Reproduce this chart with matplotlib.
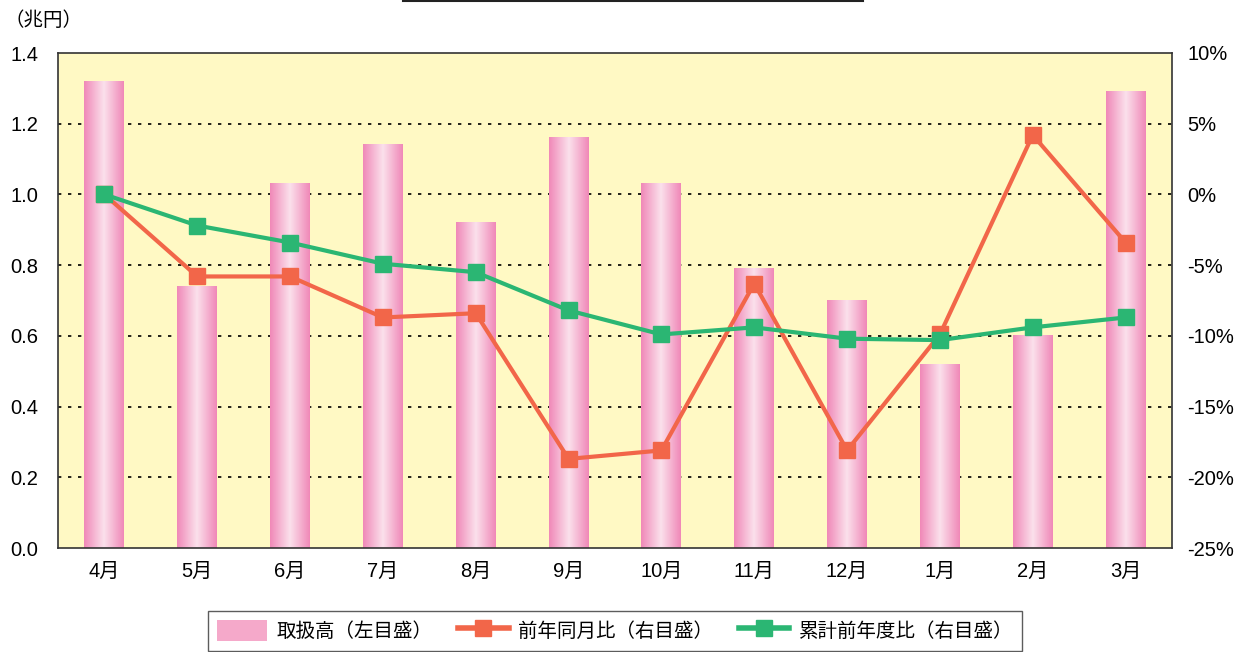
import matplotlib.pyplot as plt
import matplotlib.lines as mlines
import matplotlib.patches as mpatches
from matplotlib.colors import LinearSegmentedColormap
import numpy as np

plt.rcParams['font.family'] = ['Liberation Sans', 'Noto Sans CJK JP', 'DejaVu Sans']

# データ
months = ['4月', '5月', '6月', '7月', '8月', '9月', '10月', '11月', '12月', '1月', '2月', '3月']
toriatsukai = [1.32, 0.74, 1.03, 1.14, 0.92, 1.16, 1.03, 0.79, 0.70, 0.52, 0.60, 1.29]  # 兆円
zennen_dougetsu = [0.0, -5.8, -5.8, -8.7, -8.4, -18.7, -18.1, -6.3, -18.1, -9.9, 4.2, -3.4]  # %
ruikei = [0.0, -2.2, -3.4, -4.9, -5.5, -8.2, -9.9, -9.4, -10.2, -10.3, -9.4, -8.7]  # %

left_ticks = [0.0, 0.2, 0.4, 0.6, 0.8, 1.0, 1.2, 1.4]
right_ticks = [-25, -20, -15, -10, -5, 0, 5, 10]

col_bg = '#FFF9C4'
col_orange = '#F26649'
col_green = '#2BB673'
pink = LinearSegmentedColormap.from_list('pink', ['#F089B8', '#FBE1EC', '#F089B8'])
cjk = ['Noto Sans CJK JP', 'DejaVu Sans']

fig = plt.figure(figsize=(12.46, 6.52), dpi=100)
ax = fig.add_axes([58 / 1246, 1 - 548 / 652, 1114 / 1246, 495 / 652])
ax.set_facecolor(col_bg)

x = np.arange(len(months))
w = 0.43
grad = np.linspace(0, 1, 64).reshape(1, -1)
for xi, v in zip(x, toriatsukai):
    ax.imshow(grad, cmap=pink, aspect='auto', extent=(xi - w / 2, xi + w / 2, 0, v),
              zorder=2, interpolation='bilinear')

ax.set_xlim(-0.5, len(months) - 0.5)
ax.set_ylim(0, 1.4)
ax.set_yticks(left_ticks)
ax.set_yticklabels([f'{t:.1f}' for t in left_ticks], fontsize=14.5)
ax.set_xticks(x)
ax.set_xticklabels(months, fontsize=14.5)
ax.tick_params(axis='x', length=0, pad=10)
ax.tick_params(axis='y', length=0, pad=14)
for t in left_ticks[1:-1]:
    ax.axhline(t, color='black', linestyle=(0, (2, 4)), linewidth=1.2, zorder=1)
for s in ax.spines.values():
    s.set_color('#333333')
    s.set_linewidth(1.2)

ax2 = ax.twinx()
ax2.set_ylim(-25, 10)
ax2.set_yticks(right_ticks)
ax2.set_yticklabels([f'{t}%' for t in right_ticks], fontsize=14.5)
ax2.tick_params(length=0, pad=11)
ax2.plot(x, zennen_dougetsu, color=col_orange, linewidth=3, marker='s', markersize=12, zorder=4)
ax2.plot(x, ruikei, color=col_green, linewidth=3, marker='s', markersize=12, zorder=5)
for s in ax2.spines.values():
    s.set_visible(False)

fig.text(4 / 1246, 1 - 21 / 652, '（兆円）', fontsize=14, va='center', ha='left', family=cjk)

# タイトル下線
fig.add_artist(mlines.Line2D([403 / 1246, 863 / 1246], [1 - 1 / 652, 1 - 1 / 652],
                             color='#222222', linewidth=1.5))

# 凡例
h_bar = mpatches.Patch(facecolor='#F5A9CA', edgecolor='none')
h_o = mlines.Line2D([], [], color=col_orange, linewidth=4, marker='s', markersize=11)
h_g = mlines.Line2D([], [], color=col_green, linewidth=4, marker='s', markersize=11)
leg = fig.legend([h_bar, h_o, h_g], ['取扱高（左目盛）', '前年同月比（右目盛）', '累計前年度比（右目盛）'],
                 loc='upper center', bbox_to_anchor=(615 / 1246, 1 - 611 / 652), ncol=3,
                 prop={'family': cjk, 'size': 14}, frameon=True, fancybox=False,
                 edgecolor='#333333', handlelength=2.6, handleheight=1.3,
                 columnspacing=1.3, handletextpad=0.5, borderpad=0.45, borderaxespad=0)
leg.get_frame().set_linewidth(1.0)

fig.savefig('out.png', dpi=100)
